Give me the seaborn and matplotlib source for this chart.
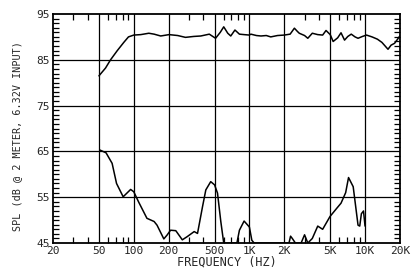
import numpy as np
import pandas as pd
import matplotlib
matplotlib.use("Agg")
import matplotlib.pyplot as plt
from matplotlib.ticker import FixedLocator, NullFormatter, MultipleLocator
import seaborn as sns

# On-axis SPL response
resp_freq = [50, 57, 63, 72, 82, 90, 100, 115, 135, 150, 171, 202, 240, 280, 330, 380, 450, 510,
             560, 600, 650, 690, 750, 820, 900, 1000, 1030, 1150, 1260, 1400, 1530, 1750, 2000,
             2250, 2450, 2600, 2700, 3000, 3200, 3500, 3900, 4300, 4600, 5000, 5300, 5800,
             6200, 6650, 7100, 7600, 8200, 8700, 9500, 10300, 11500, 12800, 14000, 15800,
             16800, 18000, 19000, 20000]
resp_db = [81.5, 83.2, 85.0, 87.0, 88.8, 90.0, 90.4, 90.5, 90.8, 90.6, 90.2, 90.5, 90.3, 89.9,
           90.1, 90.2, 90.6, 89.7, 91.0, 92.2, 90.8, 90.2, 91.5, 90.6, 90.5, 90.4, 90.6, 90.3,
           90.2, 90.3, 90.0, 90.3, 90.4, 90.6, 91.9, 91.2, 90.8, 90.3, 89.7, 90.8, 90.5, 90.4,
           91.4, 90.5, 89.0, 89.8, 90.9, 89.3, 90.1, 90.6, 90.0, 89.7, 90.1, 90.4, 90.0, 89.5,
           88.8, 87.3, 88.2, 88.6, 89.4, 90.2]

# Lower curve (distortion), 45 = bottom of chart
dist_freq = [51, 57.6, 65, 71, 81, 94, 100, 110, 130, 150, 159, 182, 195, 208, 231, 263, 290,
             333, 356, 393, 420, 463, 500, 530, 566, 600, 780, 820, 900, 1000, 1050, 1100,
             2200, 2270, 2350, 2500, 2800, 3000, 3200, 3500, 3900, 4300, 4980, 5700, 6200,
             6800, 7200, 7900, 8700, 9000, 9300, 9700, 10000]
dist_db = [65.3, 64.7, 62.4, 58.0, 55.1, 56.7, 56.2, 54.0, 50.4, 49.7, 48.9, 45.9, 46.8, 47.8,
           47.7, 45.7, 46.4, 47.5, 47.1, 52.9, 56.6, 58.4, 57.7, 55.9, 49.7, 45.0, 45.0, 47.8,
           49.8, 48.5, 45.6, 45.0, 45.0, 46.5, 46.0, 45.0, 45.0, 46.8, 45.0, 46.0, 48.7, 48.0,
           50.8, 52.6, 53.7, 56.0, 59.3, 57.3, 48.9, 48.7, 51.4, 52.0, 48.7]

x_ticks = [20, 50, 100, 200, 500, 1000, 2000, 5000, 10000, 20000]
x_labels = ["20", "50", "100", "200", "500", "1K", "2K", "5K", "10K", "20K"]
y_ticks = [45, 55, 65, 75, 85, 95]

sns.set_style("white")
plt.rcParams['font.family'] = ['DejaVu Sans Mono', 'DejaVu Sans']

df_resp = pd.DataFrame({"f": resp_freq, "db": resp_db})
df_dist = pd.DataFrame({"f": dist_freq, "db": dist_db})

fig = plt.figure(figsize=(4.2, 2.8), dpi=100)
ax = fig.add_axes([0.126, 0.132, 0.826, 0.818])

sns.lineplot(data=df_resp, x="f", y="db", ax=ax, color="black", linewidth=1.1)
sns.lineplot(data=df_dist, x="f", y="db", ax=ax, color="black", linewidth=1.1)

ax.set_xscale("log")
ax.set_xlim(20, 20000)
ax.set_ylim(45, 95)

ax.xaxis.set_major_locator(FixedLocator(x_ticks))
ax.set_xticklabels(x_labels)
minor_x = [f for dec in [10, 100, 1000, 10000] for f in [dec * k for k in range(2, 10)]
           if 20 < f < 20000 and f not in x_ticks]
ax.xaxis.set_minor_locator(FixedLocator(minor_x))
ax.xaxis.set_minor_formatter(NullFormatter())
ax.yaxis.set_major_locator(FixedLocator(y_ticks))
ax.yaxis.set_minor_locator(MultipleLocator(1))

ax.tick_params(which="both", direction="in", top=True, right=True, bottom=True, left=True,
               color="black", labelsize=8, pad=2)
ax.tick_params(which="major", length=0, width=1)
ax.tick_params(which="minor", length=4, width=0.9)

for v in [50, 100, 200, 500, 1000, 2000, 5000, 10000]:
    ax.axvline(v, color="black", linewidth=0.9, zorder=1)
for v in [55, 65, 75, 85]:
    ax.axhline(v, color="black", linewidth=0.9, zorder=1)

for s in ax.spines.values():
    s.set_color("black")
    s.set_linewidth(1.3)
    s.set_visible(True)

ax.set_xlabel("FREQUENCY (HZ)", fontsize=8.6, labelpad=0)
ax.set_ylabel("SPL (dB @ 2 METER, 6.32V INPUT)", fontsize=7.3)
ax.yaxis.set_label_coords(-0.09, 0.467)

fig.savefig("out.png", dpi=100, facecolor="white")
